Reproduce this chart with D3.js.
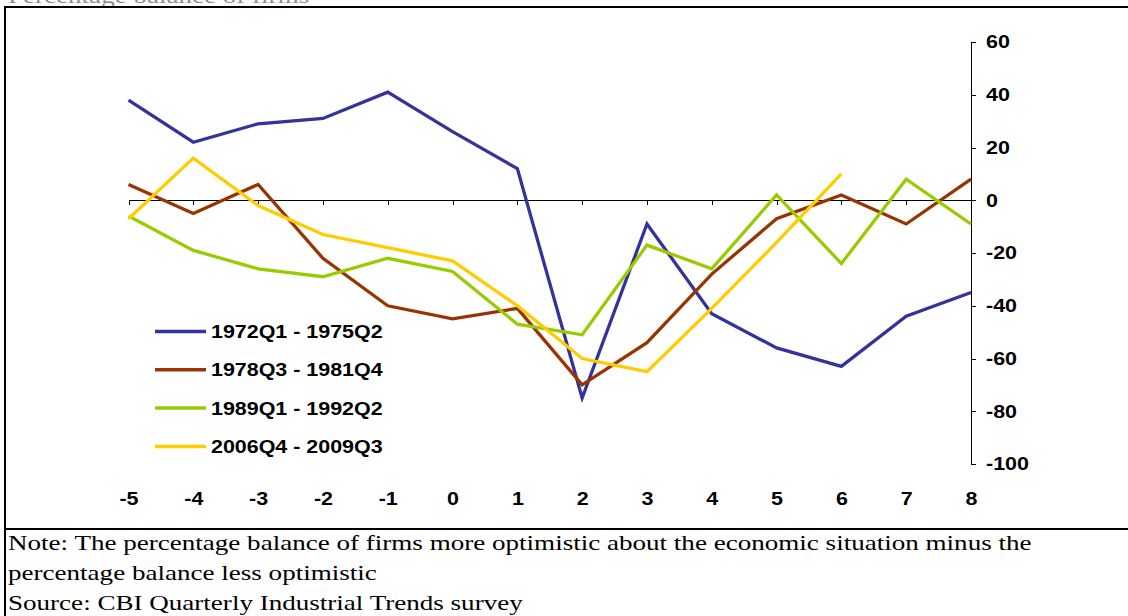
<!DOCTYPE html>
<html>
<head>
<meta charset="utf-8">
<script src="https://cdn.jsdelivr.net/npm/d3@7"></script>
<style>
    body { margin: 0; background: #fff; }
    svg { display: block; }
    .axis path, .axis line { stroke: #000; shape-rendering: crispEdges; }
    .lbl { font-family: "Liberation Sans", Arial, sans-serif; font-weight: bold; font-size: 18.5px; fill: #000; }
    .note { font-family: "Liberation Serif", "Times New Roman", serif; font-size: 20.5px; fill: #000; }
</style>
</head>
<body>
<div id="chart"></div>
<script>
// quarters relative to the peak
const quarters = [-5, -4, -3, -2, -1, 0, 1, 2, 3, 4, 5, 6, 7, 8];
const yTicks = [-100, -80, -60, -40, -20, 0, 20, 40, 60];

const seriesNames = ["1972Q1 - 1975Q2", "1978Q3 - 1981Q4", "1989Q1 - 1992Q2", "2006Q4 - 2009Q3"];
const seriesColors = ["#333399", "#993300", "#99cc00", "#ffcc00"];

const s1972 = [38, 22, 29, 31, 41, 26, 12, -75, -9, -43, -56, -63, -44, -35];
const s1978 = [6, -5, 6, -22, -40, -45, -41, -70, -54, -28, -7, 2, -9, 8];
const s1989 = [-6, -19, -26, -29, -22, -27, -47, -51, -17, -26, 2, -24, 8, -9];
const s2006 = [-7, 16, -2, -13, -18, -23, -40, -60, -65, -41, -16, 10, null, null];

const seriesValues = [s1972, s1978, s1989, s2006];

const noteLines = [
    "Note: The percentage balance of firms more optimistic about the economic situation minus the",
    "percentage balance less optimistic",
    "Source: CBI Quarterly Industrial Trends survey"
];

const width = 1128, height = 616;
const stretch = 1.16;      // the original picture is a bit wider than tall
const noteStretch = 1.32;

let svg = d3.select("#chart").append("svg")
    .attr("width", width)
    .attr("height", height);

// frame (heading above is cut off in the original)
svg.append("text")
    .attr("class", "note")
    .attr("transform", "translate(8,3) scale(" + noteStretch + ",1)")
    .text("Percentage balance of firms");
svg.append("rect").attr("x", 0).attr("y", 0).attr("width", width).attr("height", 6).attr("fill", "#fff").attr("opacity", 0.55);
svg.append("line").attr("x1", 5).attr("x2", width).attr("y1", 7).attr("y2", 7)
    .attr("stroke", "#000").attr("stroke-width", 2);
svg.append("line").attr("x1", 5).attr("x2", width).attr("y1", 529).attr("y2", 529)
    .attr("stroke", "#000").attr("stroke-width", 2);
svg.append("line").attr("x1", 5).attr("x2", 5).attr("y1", 6).attr("y2", height)
    .attr("stroke", "#000").attr("stroke-width", 2);

let x = d3.scalePoint()
    .domain(quarters)
    .range([128.5, 971]);
let y = d3.scaleLinear()
    .domain([-100, 60])
    .range([464, 42]);

// x axis on the zero line, labels pushed to the bottom
let xAxis = d3.axisBottom(x).tickSize(5).tickSizeOuter(0).tickPadding(287)
    .tickFormat(d => String(d));
let gx = svg.append("g")
    .attr("class", "axis")
    .attr("transform", "translate(0," + y(0) + ")")
    .call(xAxis);
gx.selectAll("text")
    .attr("class", "lbl")
    .attr("transform", "scale(" + stretch + ",1)");
gx.select(".domain").attr("d", "M" + x(-5) + ",0H" + x(8));

// y axis on the right
let yAxis = d3.axisRight(y).tickValues(yTicks).tickSize(5).tickSizeOuter(0)
    .tickFormat(d => String(d));
let gy = svg.append("g")
    .attr("class", "axis")
    .attr("transform", "translate(" + x(8) + ",0)")
    .call(yAxis);
gy.selectAll("text")
    .attr("class", "lbl")
    .attr("x", 15 / stretch)
    .attr("transform", "scale(" + stretch + ",1)");

// lines
let line = d3.line()
    .defined(d => d != null)
    .x((d, i) => x(quarters[i]))
    .y(d => y(d));

svg.append("g").selectAll("path")
    .data(seriesValues)
    .enter().append("path")
    .attr("d", d => line(d))
    .attr("fill", "none")
    .attr("stroke", (d, i) => seriesColors[i])
    .attr("stroke-width", 3.3)
    .attr("stroke-linejoin", "miter");

// legend
let legend = svg.append("g").selectAll("g")
    .data(seriesNames)
    .enter().append("g")
    .attr("transform", (d, i) => "translate(155," + (331.5 + i * 38.3) + ")");
legend.append("line")
    .attr("x1", 0).attr("x2", 51)
    .attr("stroke", (d, i) => seriesColors[i])
    .attr("stroke-width", 3.5);
legend.append("text")
    .attr("class", "lbl")
    .attr("dy", "0.35em")
    .attr("transform", "translate(56,0) scale(" + stretch + ",1)")
    .text(d => d);

// note under the chart
svg.append("g").selectAll("text")
    .data(noteLines)
    .enter().append("text")
    .attr("class", "note")
    .attr("transform", (d, i) => "translate(8," + (550 + i * 30) + ") scale(" + noteStretch + ",1)")
    .text(d => d);
</script>
</body>
</html>
